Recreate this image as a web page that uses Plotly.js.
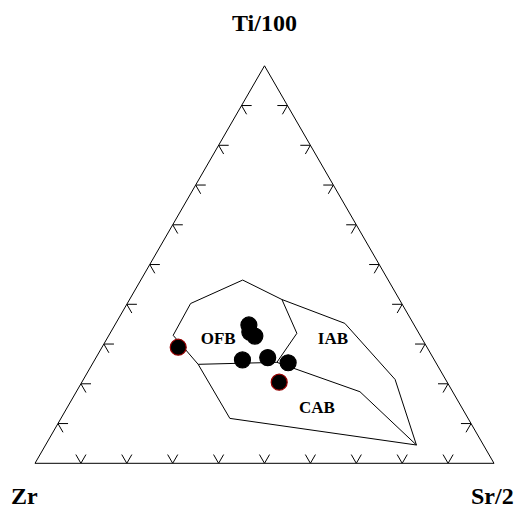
<!DOCTYPE html>
<html>
<head>
<meta charset="utf-8">
<script src="https://cdn.plot.ly/plotly-3.0.1.min.js"></script>
<style>html,body{margin:0;padding:0;background:#fff;}#chart{width:517px;height:510px;}</style>
</head>
<body>
<div id="chart"></div>
<script>
// Apex labels
const apexLabels = ["Ti/100", "Zr", "Sr/2"];

// Sample analyses (percent of Ti/100 + Zr + Sr/2)
const sampleTi = [29.2, 34.8, 33.0, 32.0, 26.0, 26.6, 25.3, 20.4];
const sampleZr = [54.2, 36.0, 36.7, 36.1, 41.8, 36.0, 32.2, 36.6];
const sampleSr = [16.6, 29.2, 30.3, 31.9, 32.2, 37.4, 42.5, 43.0];
const sampleEdge = ["red", "black", "black", "black", "black", "black", "black", "red"];

// Field boundary lines, points as [Ti, Zr, Sr]
const ofbOutline = [[24.9, 52.0, 23.1], [32.2, 53.8, 14.0], [40.2, 46.0, 13.8], [46.1, 31.7, 22.2], [41.2, 25.6, 33.2], [32.7, 26.6, 40.7], [25.4, 34.6, 40.0]];
const cabUpper = [[24.9, 52.0, 23.1], [25.4, 34.6, 40.0], [18.0, 20.2, 61.8], [4.6, 14.6, 80.8]];
const iabUpper = [[41.2, 25.6, 33.2], [35.2, 14.9, 49.9], [21.1, 11.0, 67.9], [4.6, 14.6, 80.8]];
const cabLower = [[24.9, 52.0, 23.1], [11.3, 51.9, 36.8], [4.6, 14.6, 80.8]];

// Field labels
const fieldNames = ["OFB", "IAB", "CAB"];
const fieldTi = [31.0, 31.0, 13.6];
const fieldZr = [44.6, 19.6, 31.8];
const fieldSr = [24.4, 49.4, 54.6];

// Edge tick values
const tickVals = [10, 20, 30, 40, 50, 60, 70, 80, 90];

(function () {
  const TL = 2.2;
  const serif = "Liberation Serif, Times New Roman, serif";
  const edgeColors = {red: "rgb(150,0,0)", black: "#000"};

  function lineTrace(pts) {
    return {
      type: "scatterternary", mode: "lines",
      a: pts.map(p => p[0]), b: pts.map(p => p[1]), c: pts.map(p => p[2]),
      line: {color: "#000", width: 1}, hoverinfo: "skip", showlegend: false
    };
  }

  const tA = [], tB = [], tC = [];
  function seg(p, q) {
    tA.push(p[0], q[0], null); tB.push(p[1], q[1], null); tC.push(p[2], q[2], null);
  }
  tickVals.forEach(k => {
    let p = [0, 100 - k, k];
    seg(p, [TL, 100 - k, k - TL]);
    seg(p, [TL, 100 - k - TL, k]);
    p = [k, 100 - k, 0];
    seg(p, [k, 100 - k - TL, TL]);
    seg(p, [k - TL, 100 - k, TL]);
    p = [k, 0, 100 - k];
    seg(p, [k, TL, 100 - k - TL]);
    seg(p, [k - TL, TL, 100 - k]);
  });

  const traces = [
    {type: "scatterternary", mode: "lines", a: tA, b: tB, c: tC, connectgaps: false,
     line: {color: "#000", width: 1}, hoverinfo: "skip", showlegend: false},
    lineTrace(ofbOutline), lineTrace(cabUpper), lineTrace(iabUpper), lineTrace(cabLower),
    {type: "scatterternary", mode: "text", a: fieldTi, b: fieldZr, c: fieldSr, text: fieldNames,
     textposition: "middle center", textfont: {family: serif, size: 17, color: "#000", weight: "bold"},
     hoverinfo: "skip", showlegend: false},
    {type: "scatterternary", mode: "markers", a: sampleTi, b: sampleZr, c: sampleSr,
     marker: {size: 16, color: "#000", line: {width: 1.2, color: sampleEdge.map(e => edgeColors[e])}},
     showlegend: false}
  ];

  const W = 517, H = 510;
  const xL = 35, xR = 494, yB = 463.3;
  const triH = (xR - xL) * Math.sqrt(3) / 2;
  const yT = yB - triH;

  function axis() {
    return {showgrid: false, showticklabels: false, ticks: "", showline: true,
            linecolor: "#000", linewidth: 1, title: {text: ""}, min: 0};
  }

  const layout = {
    width: W, height: H,
    margin: {l: 0, r: 0, t: 0, b: 0},
    paper_bgcolor: "#fff",
    showlegend: false,
    ternary: {
      sum: 100,
      bgcolor: "#fff",
      domain: {x: [xL / W, xR / W], y: [1 - yB / H, 1 - yT / H]},
      aaxis: axis(), baxis: axis(), caxis: axis()
    },
    annotations: [
      {text: apexLabels[0], x: 264.5 / W, y: 1 - 23 / H},
      {text: apexLabels[1], x: 24.5 / W, y: 1 - 496 / H},
      {text: apexLabels[2], x: 492 / W, y: 1 - 496 / H}
    ].map(a => Object.assign(a, {xref: "paper", yref: "paper", showarrow: false,
      xanchor: "center", yanchor: "middle",
      font: {family: serif, size: 24, color: "#000", weight: "bold"}}))
  };

  Plotly.newPlot("chart", traces, layout, {displayModeBar: false, staticPlot: true});
})();
</script>
</body>
</html>
